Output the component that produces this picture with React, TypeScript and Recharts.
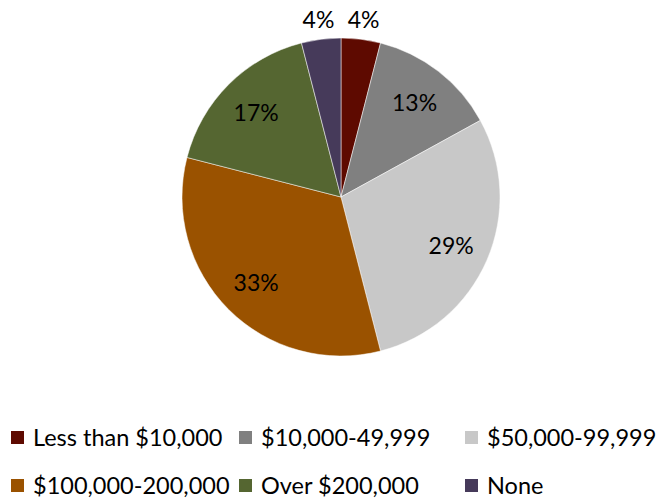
import React from "react";
import { PieChart, Pie, Cell, Legend } from "recharts";

const categories = [
  "Less than $10,000",
  "$10,000-49,999",
  "$50,000-99,999",
  "$100,000-200,000",
  "Over $200,000",
  "None",
];
const values = [4, 13, 29, 33, 17, 4];
const colors = ["#5E0A00", "#808080", "#C8C8C8", "#9A5200", "#556631", "#463A5A"];

const data = categories.map((name, i) => ({ name, value: values[i] }));

const FONT = "Lato, 'Open Sans', sans-serif";
const RAD = Math.PI / 180;

const renderLabel = (props: any) => {
  const { cx, cy, midAngle, outerRadius, value } = props;
  const small = value < 6;
  const r = small ? outerRadius * 1.13 : outerRadius * 0.755;
  const x = cx + r * Math.cos(-midAngle * RAD);
  const y = cy + r * Math.sin(-midAngle * RAD);
  return (
    <text
      x={x}
      y={y}
      textAnchor="middle"
      dominantBaseline="central"
      fontFamily={FONT}
      fontSize={23}
      fill="#000"
    >
      {`${value}%`}
    </text>
  );
};

const colX = [11, 239, 465];
const rowY = [437, 485];

const LegendContent = () => (
  <div style={{ position: "relative", width: 656, height: 501 }}>
    {categories.map((c, i) => {
      const col = i % 3;
      const row = Math.floor(i / 3);
      return (
        <div
          key={c}
          style={{
            position: "absolute",
            left: colX[col],
            top: rowY[row] - 14,
            height: 28,
            display: "flex",
            alignItems: "center",
            fontFamily: FONT,
            fontSize: 23.5,
            color: "#000",
            whiteSpace: "nowrap",
          }}
        >
          <span
            style={{
              display: "inline-block",
              width: 13,
              height: 13,
              background: colors[i],
              marginRight: 9,
            }}
          />
          {c}
        </div>
      );
    })}
  </div>
);

export default function App() {
  return (
    <div style={{ position: "absolute", left: 0, top: 0, width: 656, height: 501, background: "#fff" }}>
      <PieChart width={656} height={501} margin={{ top: 0, right: 0, bottom: 0, left: 0 }}>
        <Pie
          data={data}
          dataKey="value"
          nameKey="name"
          cx={341}
          cy={197}
          outerRadius={159}
          startAngle={90}
          endAngle={-270}
          stroke="#fff"
          strokeWidth={0.5}
          label={renderLabel}
          labelLine={false}
          isAnimationActive={false}
        >
          {data.map((d, i) => (
            <Cell key={d.name} fill={colors[i]} />
          ))}
        </Pie>
        <Legend
          content={<LegendContent />}
          wrapperStyle={{ position: "absolute", left: 0, top: 0, width: 656, height: 501 }}
        />
      </PieChart>
    </div>
  );
}
